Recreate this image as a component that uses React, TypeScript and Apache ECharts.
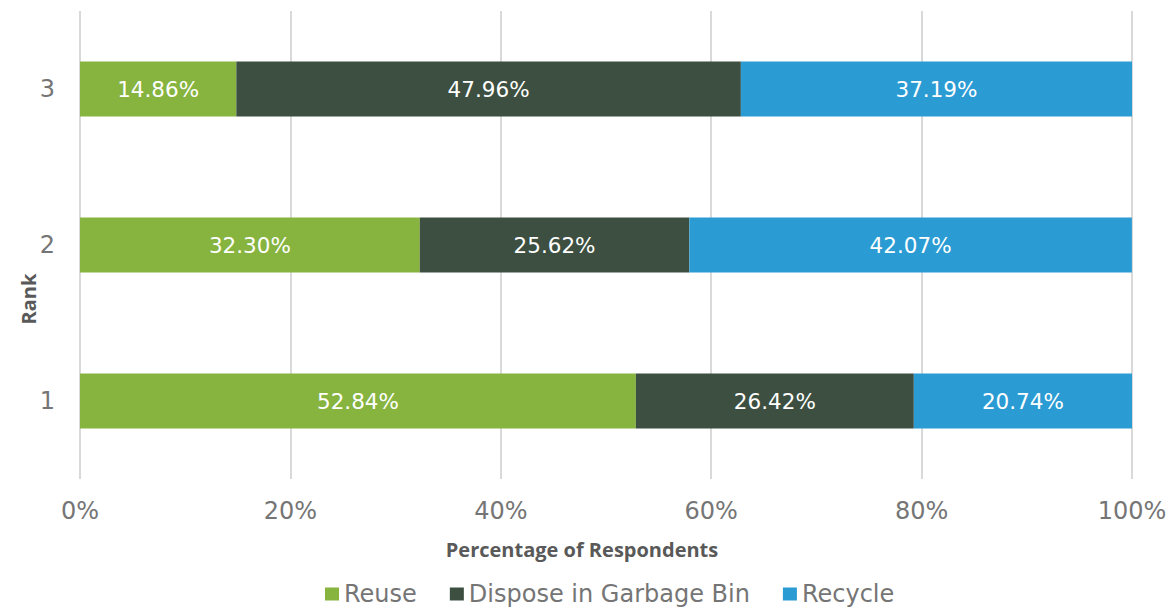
import React, { useEffect, useRef } from "react";
import * as echarts from "echarts";

const categories = ["1", "2", "3"];
const reuse = [52.84, 32.3, 14.86];
const dispose = [26.42, 25.62, 47.96];
const recycle = [20.74, 42.07, 37.19];
const seriesNames = ["Reuse", "Dispose in Garbage Bin", "Recycle"];
const colors = ["#86B43F", "#3C4F40", "#2A9BD3"];
const xTitle = "Percentage of Respondents";
const yTitle = "Rank";

const FONT = "DejaVu Sans";
const TITLE_FONT = "Open Sans";

export default function App() {
  const ref = useRef<HTMLDivElement>(null);
  useEffect(() => {
    if (!ref.current) return;
    const chart = echarts.init(ref.current, undefined, { renderer: "svg" });
    const mk = (name: string, data: number[], color: string) => ({
      name,
      type: "bar",
      stack: "total",
      data,
      barWidth: 55,
      itemStyle: { color },
      label: {
        show: true,
        position: "inside",
        color: "#ffffff",
        fontFamily: FONT,
        fontSize: 21.5,
        formatter: (p: any) => p.value.toFixed(2) + "%",
      },
    });
    chart.setOption({
      animation: false,
      textStyle: { fontFamily: FONT },
      grid: { left: 80, right: 43, top: 11, bottom: 131, containLabel: false },
      legend: {
        left: 320,
        top: 577,
        itemWidth: 14,
        itemHeight: 13,
        itemGap: 33,
        icon: "rect",
        textStyle: { fontFamily: FONT, fontSize: 24, color: "#757575" },
        data: seriesNames,
      },
      graphic: [
        {
          type: "text",
          x: 582,
          y: 549,
          style: {
            text: xTitle,
            fontFamily: TITLE_FONT,
            fontSize: 20,
            fontWeight: "bold",
            fill: "#595959",
            textAlign: "center",
            textVerticalAlign: "middle",
          },
        },
        {
          type: "text",
          x: 28,
          y: 299,
          rotation: Math.PI / 2,
          style: {
            text: yTitle,
            fontFamily: TITLE_FONT,
            fontSize: 20,
            fontWeight: "bold",
            fill: "#595959",
            textAlign: "center",
            textVerticalAlign: "middle",
          },
        },
      ],
      xAxis: {
        type: "value",
        min: 0,
        max: 100,
        interval: 20,
        axisLabel: {
          formatter: (v: number) => v + "%",
          fontFamily: FONT,
          fontSize: 24,
          color: "#757575",
          margin: 20,
        },
        axisLine: { show: false },
        axisTick: { show: false },
        splitLine: { lineStyle: { color: "#d9d9d9", width: 2 } },
      },
      yAxis: {
        type: "category",
        data: categories,
        axisLabel: { fontFamily: FONT, fontSize: 24, color: "#757575", margin: 25 },
        axisLine: { show: false },
        axisTick: { show: false },
      },
      series: [
        mk(seriesNames[0], reuse, colors[0]),
        mk(seriesNames[1], dispose, colors[1]),
        mk(seriesNames[2], recycle, colors[2]),
      ],
    });
    return () => chart.dispose();
  }, []);
  return <div ref={ref} style={{ width: 1175, height: 610, position: "absolute", left: 0, top: 0, background: "#fff" }} />;
}
